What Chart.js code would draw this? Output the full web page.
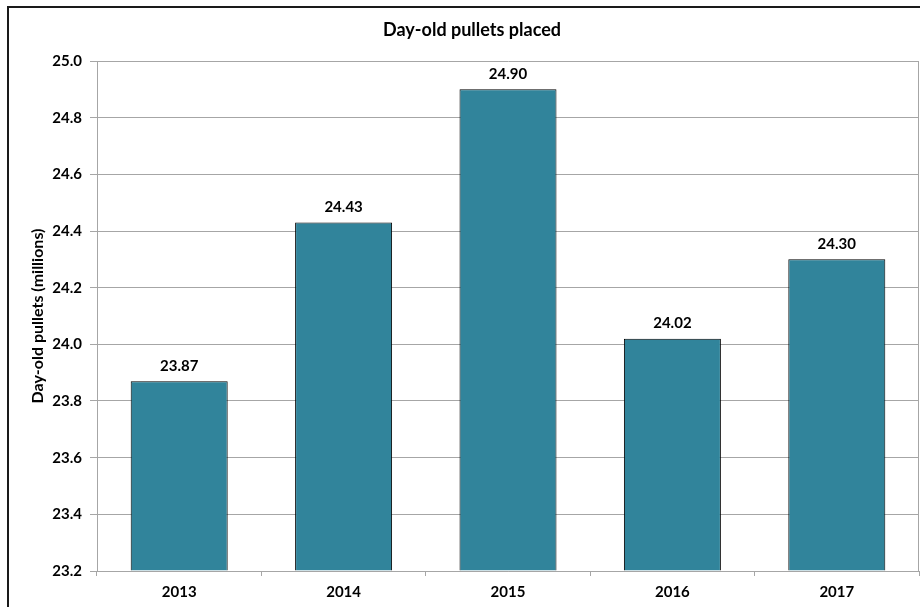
<!DOCTYPE html>
<html>
<head>
<meta charset="utf-8">
<title>Day-old pullets placed</title>
<script src="https://cdn.jsdelivr.net/npm/chart.js@4.4.1/dist/chart.umd.min.js"></script>
<style>
    html, body { margin: 0; padding: 0; background: #ffffff; }
    #wrap { position: relative; width: 920px; height: 607px; }
</style>
</head>
<body>
<div id="wrap"><canvas id="pulletsChart" width="920" height="607"></canvas></div>
<script>
const years = ['2013', '2014', '2015', '2016', '2017'];
const pullets = [23.87, 24.43, 24.90, 24.02, 24.30];
const axisMin = 23.2;
const axisMax = 25.0;
const axisStep = 0.2;

const chartTitle = 'Day-old pullets placed';
const yTitle = 'Day-old pullets (millions)';

const FONT = 'Lato, "Open Sans", sans-serif';
const BAR_FILL = '#31849b';
const GRID = '#a6a6a6';

// frame, heading and the right edge of the plot area
const framePlugin = {
    id: 'frame',
    afterDraw(chart) {
        const ctx = chart.ctx;
        const area = chart.chartArea;
        ctx.save();
        ctx.strokeStyle = '#1a1a1a';
        ctx.lineWidth = 2;
        ctx.beginPath();
        ctx.moveTo(8, chart.height);
        ctx.lineTo(8, 7);
        ctx.lineTo(chart.width, 7);
        ctx.stroke();

        ctx.strokeStyle = GRID;
        ctx.lineWidth = 1;
        ctx.beginPath();
        ctx.moveTo(area.right - 0.5, area.top);
        ctx.lineTo(area.right - 0.5, area.bottom);
        ctx.stroke();

        ctx.fillStyle = '#000000';
        ctx.font = 'bold 18px ' + FONT;
        ctx.textAlign = 'center';
        ctx.textBaseline = 'middle';
        ctx.fillText(chartTitle, 472, 30);
        ctx.restore();
    },
};

// value labels above each bar
const valueLabels = {
    id: 'valueLabels',
    afterDatasetsDraw(chart) {
        const ctx = chart.ctx;
        const meta = chart.getDatasetMeta(0);
        ctx.save();
        ctx.fillStyle = '#000000';
        ctx.font = 'bold 15px ' + FONT;
        ctx.textAlign = 'center';
        ctx.textBaseline = 'bottom';
        meta.data.forEach((bar, i) => {
            ctx.fillText(pullets[i].toFixed(2), bar.x, bar.y - 8);
        });
        ctx.restore();
    },
};

new Chart(document.getElementById('pulletsChart'), {
    type: 'bar',
    data: {
        labels: years,
        datasets: [
            {
                label: yTitle,
                data: pullets,
                base: axisMin,
                backgroundColor: BAR_FILL,
                borderColor: '#000000',
                borderWidth: 1,
                borderSkipped: 'start',
                barPercentage: 0.59,
                categoryPercentage: 1.0,
            },
        ],
    },
    options: {
        responsive: false,
        animation: false,
        layout: { padding: { top: 61, right: 1, left: 0, bottom: 0 } },
        plugins: {
            legend: { display: false },
            tooltip: { enabled: false },
            title: { display: false },
        },
        scales: {
            x: {
                offset: true,
                grid: {
                    offset: true,
                    drawOnChartArea: false,
                    drawTicks: true,
                    tickLength: 5,
                    color: GRID,
                },
                border: { color: GRID },
                ticks: {
                    color: '#000000',
                    padding: 7,
                    font: { family: FONT, size: 15, weight: 'bold' },
                },
                afterFit(scale) {
                    scale.height = 36;
                },
            },
            y: {
                min: axisMin,
                max: axisMax,
                grid: { color: GRID, tickLength: 7 },
                border: { color: GRID },
                ticks: {
                    stepSize: axisStep,
                    color: '#000000',
                    padding: 8,
                    font: { family: FONT, size: 15, weight: 'bold' },
                    callback: (v) => Number(v).toFixed(1),
                },
                title: {
                    display: true,
                    text: yTitle,
                    color: '#000000',
                    padding: { top: 28, bottom: 0 },
                    font: { family: FONT, size: 16, weight: 'bold' },
                },
                afterFit(scale) {
                    scale.width = 97;
                },
            },
        },
    },
    plugins: [framePlugin, valueLabels],
});
</script>
</body>
</html>
